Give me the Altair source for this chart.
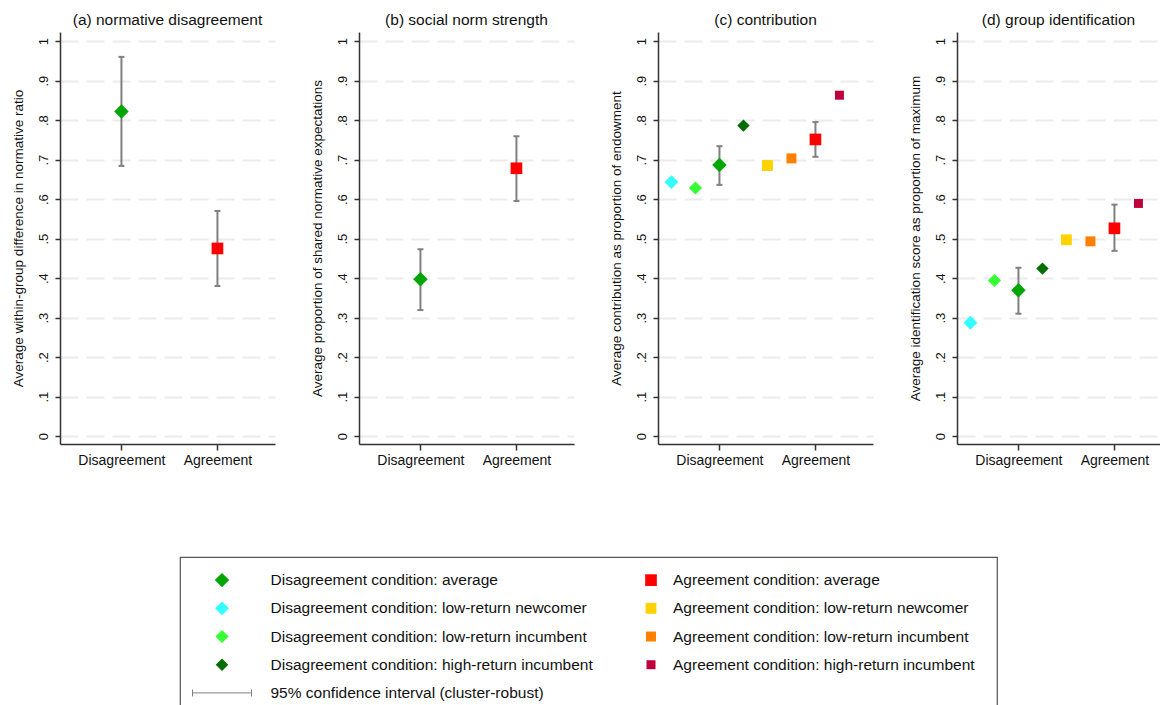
import altair as alt
import pandas as pd

FONT = "Liberation Sans"
TXT = "#111111"
AXC = "#333333"
CI_COLOR = "#808080"

panel_titles = ["(a) normative disagreement", "(b) social norm strength",
                "(c) contribution", "(d) group identification"]
y_titles = ["Average within-group difference in normative ratio",
            "Average proportion of shared normative expectations",
            "Average contribution as proportion of endowment",
            "Average identification score as proportion of maximum"]

conditions = ["Disagreement", "Agreement"]
series = ["Disagreement condition: average",
          "Disagreement condition: low-return newcomer",
          "Disagreement condition: low-return incumbent",
          "Disagreement condition: high-return incumbent",
          "Agreement condition: average",
          "Agreement condition: low-return newcomer",
          "Agreement condition: low-return incumbent",
          "Agreement condition: high-return incumbent"]
series_condition = [0, 0, 0, 0, 1, 1, 1, 1]
series_slot = [0, -2, -1, 1, 0, -2, -1, 1]
series_colors = ["#00a600", "#33ffff", "#33ff33", "#006e00",
                 "#ff0000", "#ffd200", "#ff8000", "#c0003c"]
series_shapes = ["diamond"] * 4 + ["square"] * 4
series_sizes = [210, 81, 81, 81, 121, 49, 49, 49]

values_a = [0.822, None, None, None, 0.475, None, None, None]
values_b = [0.397, None, None, None, 0.678, None, None, None]
values_c = [0.686, 0.643, 0.628, 0.786, 0.751, 0.685, 0.703, 0.863]
values_d = [0.369, 0.287, 0.394, 0.424, 0.526, 0.497, 0.493, 0.589]

ci_low_a = [0.684, 0.380]
ci_high_a = [0.960, 0.570]
ci_low_b = [0.319, 0.595]
ci_high_b = [0.473, 0.759]
ci_low_c = [0.636, 0.707]
ci_high_c = [0.734, 0.795]
ci_low_d = [0.310, 0.469]
ci_high_d = [0.426, 0.586]

y_ticks = [0, 0.1, 0.2, 0.3, 0.4, 0.5, 0.6, 0.7, 0.8, 0.9, 1.0]
ci_label = "95% confidence interval (cluster-robust)"

color_enc = alt.Color("series:N", scale=alt.Scale(domain=series, range=series_colors), legend=None)
shape_enc = alt.Shape("series:N", scale=alt.Scale(domain=series, range=series_shapes), legend=None)
size_enc = alt.Size("series:N", scale=alt.Scale(domain=series, range=series_sizes), legend=None)

ys = alt.Scale(domain=[-0.02, 1.023], nice=False, zero=False)

xaxis = alt.Axis(values=[1, 2], title=None, grid=False,
                 labelExpr="datum.value == 1 ? '" + conditions[0] + "' : '" + conditions[1] + "'",
                 labelFontSize=14, labelPadding=3, tickSize=6, labelFlush=False,
                 labelOverlap=False)


def make_yaxis(t):
    return alt.Axis(values=y_ticks, title=t, grid=True, gridDash=[18, 8], gridColor="#ebebeb",
                    gridWidth=2,
                    labelExpr="datum.value == 0 ? '0' : datum.value > 0.99 ? '1' : replace(format(datum.value, '.1f'), '0.', '.')",
                    labelAngle=270, labelAlign="center", labelBaseline="bottom",
                    labelFontSize=13, labelPadding=5, tickSize=5, titleFontSize=13.5,
                    titlePadding=12, labelFlush=False, labelOverlap=False)


def panel(title, ytitle, values, lo, hi, width=215):
    # 96 px per condition unit, first condition 61.5 px from the y axis
    xs = alt.Scale(domain=[0.36, 0.36 + width / 96.0], nice=False, zero=False)
    pts = pd.DataFrame({"series": series,
                        "cond": [c + 1 for c in series_condition],
                        "slot": series_slot,
                        "value": values}).dropna()
    pts["x"] = pts["cond"] + 0.25 * pts["slot"]
    ci = pd.DataFrame({"cond": [1, 2], "lo": lo, "hi": hi})
    yaxis = make_yaxis(ytitle)
    rule = alt.Chart(ci).mark_rule(color=CI_COLOR, strokeWidth=2).encode(
        x=alt.X("cond:Q", scale=xs, axis=xaxis),
        y=alt.Y("lo:Q", scale=ys, axis=yaxis), y2="hi:Q")
    cap_lo = alt.Chart(ci).mark_tick(orient="horizontal", size=6, thickness=2, color=CI_COLOR, opacity=1).encode(
        x=alt.X("cond:Q", scale=xs, axis=xaxis),
        y=alt.Y("lo:Q", scale=ys, axis=yaxis))
    cap_hi = alt.Chart(ci).mark_tick(orient="horizontal", size=6, thickness=2, color=CI_COLOR, opacity=1).encode(
        x=alt.X("cond:Q", scale=xs, axis=xaxis),
        y=alt.Y("hi:Q", scale=ys, axis=yaxis))
    points = alt.Chart(pts).mark_point(filled=True, opacity=1, strokeWidth=0).encode(
        x=alt.X("x:Q", scale=xs, axis=xaxis),
        y=alt.Y("value:Q", scale=ys, axis=yaxis),
        color=color_enc, shape=shape_enc, size=size_enc)
    return alt.layer(rule, cap_lo, cap_hi, points).properties(
        width=width, height=412, title=alt.TitleParams(title, frame="group"))


panels = alt.hconcat(
    panel(panel_titles[0], y_titles[0], values_a, ci_low_a, ci_high_a),
    panel(panel_titles[1], y_titles[1], values_b, ci_low_b, ci_high_b),
    panel(panel_titles[2], y_titles[2], values_c, ci_low_c, ci_high_c),
    panel(panel_titles[3], y_titles[3], values_d, ci_low_d, ci_high_d, width=203),
    spacing=34)

# legend
leg = pd.DataFrame({"series": series, "col": series_condition,
                    "row": [i % 4 for i in range(len(series))]})
ci_leg = pd.DataFrame({"label": [ci_label], "col": [0], "row": [4]})
lx = alt.Scale(domain=[-0.0979, 1.8065], nice=False, zero=False)
ly = alt.Scale(domain=[-0.82, 4.854], nice=False, zero=False, reverse=True)
LX = alt.X("col:Q", scale=lx, axis=None)
LY = alt.Y("row:Q", scale=ly, axis=None)

sym = alt.Chart(leg).mark_point(filled=True, opacity=1, strokeWidth=0).encode(
    x=LX, y=LY, color=color_enc, shape=shape_enc, size=size_enc)
txt0 = alt.Chart(leg).transform_filter("datum.col == 0").mark_text(
    align="left", baseline="middle", dx=48.5, fontSize=15.5, font=FONT, color=TXT).encode(
    x=LX, y=LY, text="series:N")
txt1 = alt.Chart(leg).transform_filter("datum.col == 1").mark_text(
    align="left", baseline="middle", dx=22, fontSize=15.5, font=FONT, color=TXT).encode(
    x=LX, y=LY, text="series:N")
ci_sym = alt.Chart(ci_leg).mark_point(
    shape="M-1,0L1,0M-1,-0.12L-1,0.12M1,-0.12L1,0.12", filled=False, size=3481,
    color=CI_COLOR, strokeWidth=1, opacity=1).encode(x=LX, y=LY)
ci_txt = alt.Chart(ci_leg).mark_text(
    align="left", baseline="middle", dx=48.5, fontSize=15.5, font=FONT, color=TXT).encode(
    x=LX, y=LY, text="label:N")

legend = alt.layer(sym, txt0, txt1, ci_sym, ci_txt).properties(
    width=817, height=160, view=alt.ViewBackground(stroke="#555555", strokeWidth=1.2))

spacer = alt.Chart(pd.DataFrame({"v": [0]})).mark_point(opacity=0).encode(
    x=alt.X("v:Q", axis=None), y=alt.Y("v:Q", axis=None)).properties(width=119, height=160)

legend_row = alt.hconcat(spacer, legend, spacing=0)

chart = alt.vconcat(panels, legend_row, spacing=89).properties(
    padding={"left": 2, "top": 4, "right": 0, "bottom": 0}
).configure_view(stroke=None).configure_axis(
    labelFont=FONT, titleFont=FONT, labelColor=TXT, titleColor=TXT,
    domainColor=AXC, tickColor=AXC, domainWidth=1.5, tickWidth=1.5,
    titleFontWeight="normal"
).configure_title(
    font=FONT, fontSize=15.5, fontWeight="normal", color=TXT, anchor="middle", offset=4
)

chart.save("out.html", embed_options={"renderer": "svg", "actions": False})
